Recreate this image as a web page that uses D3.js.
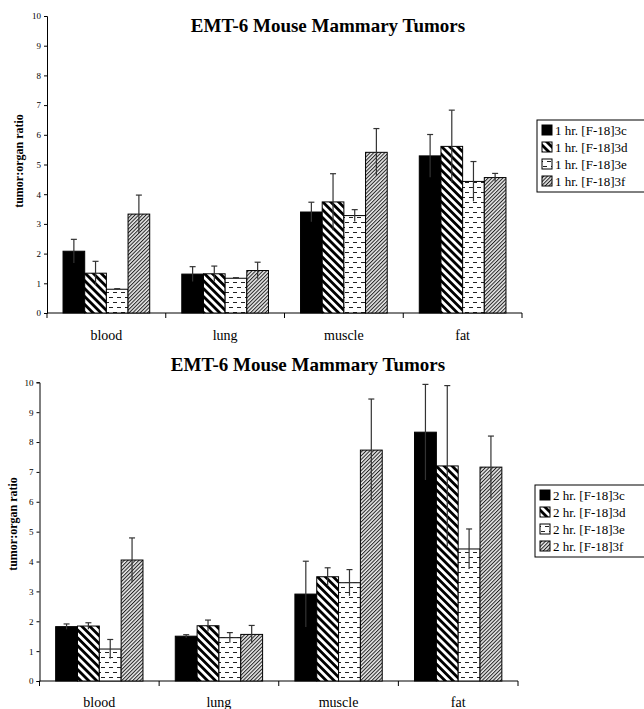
<!DOCTYPE html>
<html>
<head>
<meta charset="utf-8">
<script src="https://cdn.jsdelivr.net/npm/d3@7"></script>
<style>
  html, body { margin: 0; padding: 0; background: #fff; }
  svg { display: block; font-family: "Liberation Serif", "Times New Roman", serif; }
</style>
</head>
<body>
<div class="app"></div>
<script>
// Data
const organs = ['blood', 'lung', 'muscle', 'fat'];
const compounds = ['3c', '3d', '3e', '3f'];
const yTicks = [0, 1, 2, 3, 4, 5, 6, 7, 8, 9, 10];

// 1 hr. means / errors, one row per compound (3c, 3d, 3e, 3f)
const oneHrMeans = [
  [2.08, 1.31, 3.40, 5.29],
  [1.34, 1.32, 3.74, 5.61],
  [0.80, 1.17, 3.28, 4.43],
  [3.33, 1.43, 5.41, 4.56]
];
const oneHrErrors = [
  [0.40, 0.25, 0.33, 0.72],
  [0.40, 0.26, 0.95, 1.22],
  [0.02, 0.02, 0.20, 0.67],
  [0.64, 0.28, 0.80, 0.14]
];

// 2 hr. means / errors
const twoHrMeans = [
  [1.82, 1.50, 2.91, 8.33],
  [1.84, 1.85, 3.49, 7.20],
  [1.07, 1.45, 3.29, 4.42],
  [4.05, 1.56, 7.73, 7.16]
];
const twoHrErrors = [
  [0.09, 0.05, 1.10, 1.60],
  [0.11, 0.19, 0.30, 2.69],
  [0.32, 0.17, 0.44, 0.67],
  [0.74, 0.30, 1.71, 1.04]
];

const chartTitle = 'EMT-6 Mouse Mammary Tumors';
const yLabel = 'tumor:organ ratio';


// Setup
const width = 644;
const height = 709;

const svg = d3.select('.app')
  .append('svg')
  .attr('width', width)
  .attr('height', height)
  .attr('viewBox', [0, 0, width, height]);

// Fill patterns
const defs = svg.append('defs');

defs.append('pattern')
  .attr('id', 'pat-3d')
  .attr('patternUnits', 'userSpaceOnUse')
  .attr('width', 5.6).attr('height', 5.6)
  .attr('patternTransform', 'rotate(-45)')
  .call(p => {
    p.append('rect').attr('width', 5.6).attr('height', 5.6).attr('fill', '#fff');
    p.append('rect').attr('width', 2.8).attr('height', 5.6).attr('fill', '#000');
  });

defs.append('pattern')
  .attr('id', 'pat-3e')
  .attr('patternUnits', 'userSpaceOnUse')
  .attr('width', 8).attr('height', 10)
  .call(p => {
    p.append('rect').attr('width', 8).attr('height', 10).attr('fill', '#fff');
    p.append('rect').attr('x', 1).attr('y', 2).attr('width', 4).attr('height', 1).attr('fill', '#222');
    p.append('rect').attr('x', 5).attr('y', 7).attr('width', 4).attr('height', 1).attr('fill', '#222');
    p.append('rect').attr('x', -3).attr('y', 7).attr('width', 4).attr('height', 1).attr('fill', '#222');
  });

defs.append('pattern')
  .attr('id', 'pat-3f')
  .attr('patternUnits', 'userSpaceOnUse')
  .attr('width', 2.6).attr('height', 2.6)
  .attr('patternTransform', 'rotate(45)')
  .call(p => {
    p.append('rect').attr('width', 2.6).attr('height', 2.6).attr('fill', '#e8e8e8');
    p.append('rect').attr('width', 1).attr('height', 2.6).attr('fill', '#222');
  });

const fills = ['#000', 'url(#pat-3d)', 'url(#pat-3e)', 'url(#pat-3f)'];


// Draw one chart panel
const drawChart = (cfg) => {
  const g = svg.append('g');

  const x = d3.scaleBand()
    .domain(organs)
    .range([cfg.left, cfg.right])
    .padding(0);

  const groupW = x.bandwidth() * 0.73;
  const xInner = d3.scaleBand()
    .domain(compounds)
    .range([(x.bandwidth() - groupW) / 2, (x.bandwidth() + groupW) / 2])
    .padding(0);

  const y = d3.scaleLinear()
    .domain([0, 10])
    .range([cfg.bottom, cfg.top]);

  // title
  g.append('text')
    .attr('x', cfg.titleX)
    .attr('y', cfg.titleY)
    .attr('text-anchor', 'middle')
    .attr('font-weight', 'bold')
    .attr('font-size', 19)
    .text(chartTitle);

  // y axis
  const yAxis = g.append('g')
    .attr('transform', `translate(${cfg.left},0)`)
    .call(d3.axisLeft(y).tickValues(yTicks).tickSize(3).tickPadding(3).tickFormat(d3.format('d')));
  yAxis.select('.domain').attr('stroke', '#000');
  yAxis.selectAll('.tick line').attr('stroke', '#000');
  yAxis.selectAll('text')
    .attr('font-family', '"Liberation Serif", serif')
    .attr('font-size', 9)
    .attr('fill', '#000');

  g.append('text')
    .attr('transform', `translate(${cfg.yLabelX},${cfg.yLabelY}) rotate(-90)`)
    .attr('text-anchor', 'middle')
    .attr('dy', '0.35em')
    .attr('font-weight', 'bold')
    .attr('font-size', 12)
    .text(yLabel);

  // x axis line + boundary ticks
  g.append('line')
    .attr('x1', cfg.left).attr('x2', cfg.right)
    .attr('y1', cfg.bottom).attr('y2', cfg.bottom)
    .attr('stroke', '#000');

  g.append('g')
    .selectAll('line')
    .data(organs.map(o => x(o)).concat([cfg.right]))
    .join('line')
    .attr('x1', d => d).attr('x2', d => d)
    .attr('y1', cfg.bottom).attr('y2', cfg.bottom + 5)
    .attr('stroke', '#000');

  g.append('g')
    .selectAll('text')
    .data(organs)
    .join('text')
    .attr('x', d => x(d) + x.bandwidth() / 2)
    .attr('y', cfg.xLabelY)
    .attr('dy', '0.35em')
    .attr('text-anchor', 'middle')
    .attr('font-size', 14)
    .text(d => d);

  // bars
  const barData = [];
  compounds.forEach((c, si) => {
    organs.forEach((o, oi) => {
      barData.push({ organ: o, compound: c, si, value: cfg.means[si][oi], err: cfg.errors[si][oi] });
    });
  });

  g.append('g')
    .selectAll('rect')
    .data(barData)
    .join('rect')
    .attr('x', d => x(d.organ) + xInner(d.compound))
    .attr('y', d => y(d.value))
    .attr('width', xInner.bandwidth())
    .attr('height', d => y(0) - y(d.value))
    .attr('fill', d => fills[d.si])
    .attr('stroke', '#000')
    .attr('stroke-width', 1);

  // error bars (cap on top only)
  const eb = g.append('g')
    .attr('stroke', '#333')
    .attr('stroke-width', 1.2);

  eb.selectAll('line.v')
    .data(barData)
    .join('line')
    .attr('class', 'v')
    .attr('x1', d => x(d.organ) + xInner(d.compound) + xInner.bandwidth() / 2)
    .attr('x2', d => x(d.organ) + xInner(d.compound) + xInner.bandwidth() / 2)
    .attr('y1', d => y(d.value - d.err))
    .attr('y2', d => y(d.value + d.err));

  eb.selectAll('line.cap')
    .data(barData)
    .join('line')
    .attr('class', 'cap')
    .attr('x1', d => x(d.organ) + xInner(d.compound) + xInner.bandwidth() / 2 - 3)
    .attr('x2', d => x(d.organ) + xInner(d.compound) + xInner.bandwidth() / 2 + 3)
    .attr('y1', d => y(d.value + d.err))
    .attr('y2', d => y(d.value + d.err));

  // legend
  const lg = g.append('g')
    .attr('transform', `translate(${cfg.legendX},${cfg.legendY})`);

  lg.append('rect')
    .attr('width', 120)
    .attr('height', 72)
    .attr('fill', '#fff')
    .attr('stroke', '#000');

  const items = lg.selectAll('g.item')
    .data(compounds)
    .join('g')
    .attr('class', 'item')
    .attr('transform', (d, i) => `translate(5,${10 + i * 17})`);

  items.append('rect')
    .attr('x', 0).attr('y', -5)
    .attr('width', 10).attr('height', 10)
    .attr('fill', (d, i) => fills[i])
    .attr('stroke', '#000');

  items.append('text')
    .attr('x', 13)
    .attr('dy', '0.35em')
    .attr('font-size', 13)
    .text(d => `${cfg.prefix} [F-18]${d}`);
};

drawChart({
  left: 47, right: 522, top: 16, bottom: 313,
  titleX: 328, titleY: 32,
  yLabelX: 19, yLabelY: 161,
  xLabelY: 335,
  legendX: 537, legendY: 120,
  prefix: '1 hr.',
  means: oneHrMeans, errors: oneHrErrors
});

drawChart({
  left: 39.5, right: 518, top: 382.3, bottom: 681,
  titleX: 308, titleY: 371,
  yLabelX: 13, yLabelY: 524,
  xLabelY: 702.5,
  legendX: 535, legendY: 485,
  prefix: '2 hr.',
  means: twoHrMeans, errors: twoHrErrors
});
</script>
</body>
</html>
